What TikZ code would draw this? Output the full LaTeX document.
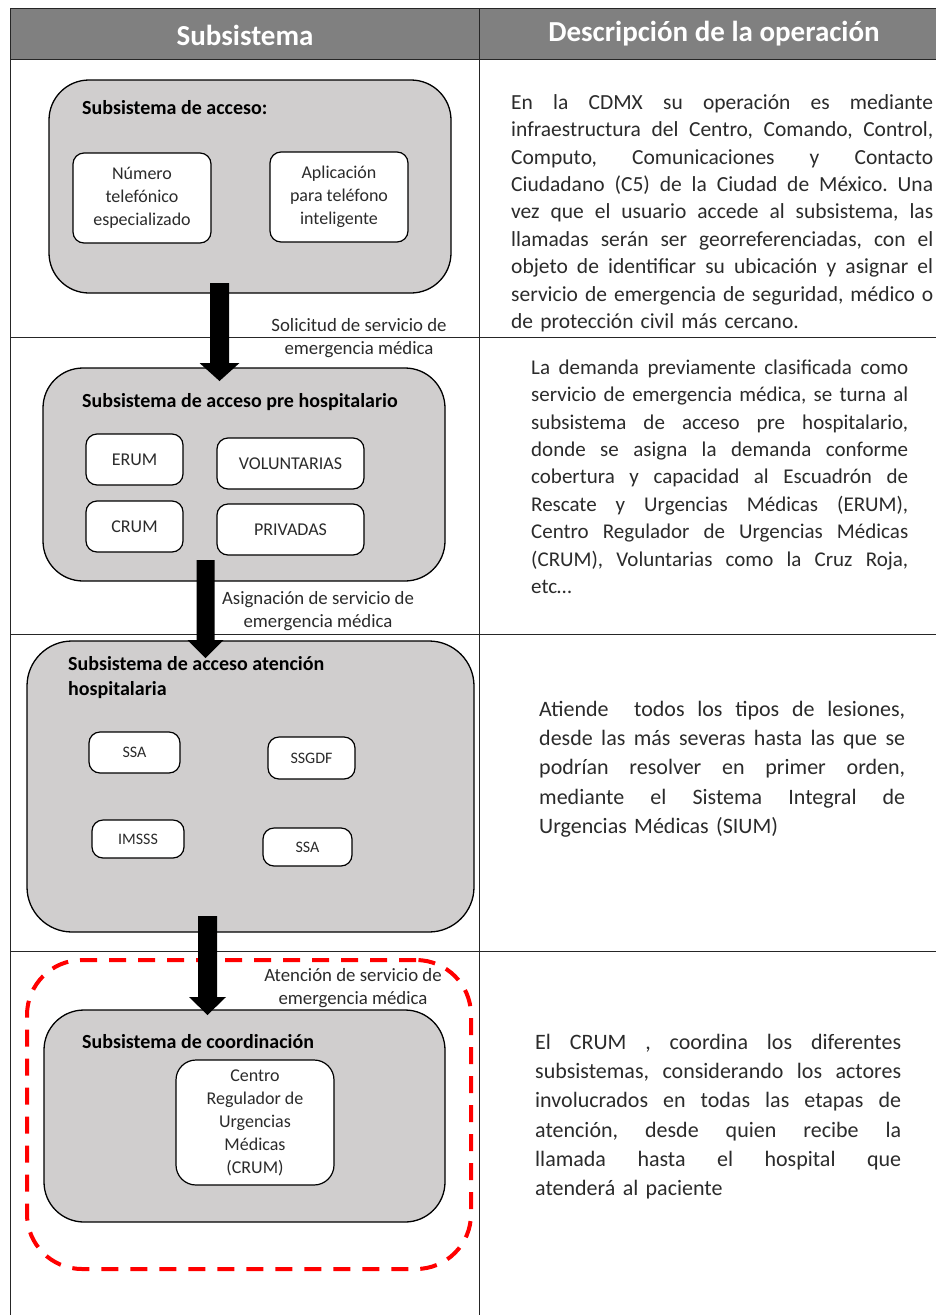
\documentclass[tikz,border=0pt]{standalone}
\usepackage{fontspec}
\setmainfont{Carlito}
\usetikzlibrary{calc}
\definecolor{hdr}{HTML}{808080}
\definecolor{boxg}{HTML}{D0CECE}
\definecolor{txt}{HTML}{2B2B2B}
\newlength\dw
\newcommand\jl[1]{\leavevmode\hbox to \dw{\spaceskip=\fontdimen2\font plus 1fil\relax\strut #1}\\}
\newcommand\lastl[1]{\strut #1}
\newcommand\fatarrow[4]{%
  \fill let \p1=(#1), \p2=(#2) in
    (\x1-#3pt,\y1) -- (\x1+#3pt,\y1) -- (\x1+#3pt,\y2+18pt) -- (\x1+#4pt,\y2+18pt)
    -- (\x1,\y2) -- (\x1-#4pt,\y2+18pt) -- (\x1-#3pt,\y2+18pt) -- cycle;}
\frenchspacing
\begin{document}
\begin{tikzpicture}[x=1pt,y=-1pt,
  bigbox/.style={draw=black, line width=1.3pt, fill=boxg, inner sep=0},
  subbox/.style={draw=black, line width=1.2pt, fill=white, rounded corners=11pt, inner sep=0,
    align=center, font=\fontsize{18}{23}\selectfont, text=txt},
  ttl/.style={anchor=base west, inner sep=0, align=left, font=\bfseries\fontsize{20}{25}\selectfont},
  lbl/.style={inner sep=0, align=center, font=\fontsize{18.8}{23}\selectfont, text=txt},
  desc/.style={anchor=north west, inner sep=0, align=left, text=txt},
  tline/.style={line width=1pt, draw=black!85},
  hdrtxt/.style={inner sep=0, text=white, font=\bfseries\fontsize{29}{31}\selectfont}]
\useasboundingbox (0,0) rectangle (936,1315);
\fill[white] (0,0) rectangle (936,1315);

% ---- table ----
\fill[hdr] (10,8) rectangle (936,59);
\draw[tline] (10,8) -- (936,8);
\draw[tline] (10,59) -- (936,59);
\draw[tline] (10,8) -- (10,1315);
\draw[tline] (479,8) -- (479,1315);
\draw[tline] (10,337) -- (936,337);
\draw[tline] (10,634) -- (936,634);
\draw[tline] (10,951) -- (936,951);
\node[hdrtxt] (h1) at (245,35) {Subsistema};
\node[hdrtxt] (h2) at (714,34) {Descripción de la operación};

% ---- row 1 ----
\node[bigbox, rounded corners=40pt, minimum width=402pt, minimum height=213pt] (b1) at (250,186.5) {};
\node[ttl] (t1) at (82,114) {Subsistema de acceso:};
\node[subbox, minimum width=138pt, minimum height=90pt] (n11) at (142,198) {Número\\telefónico\\especializado};
\node[subbox, minimum width=138pt, minimum height=90pt] (n12) at (339,197) {Aplicación\\para teléfono\\inteligente};
\node[lbl] (l1) at (359,338) {Solicitud de servicio de\\emergencia médica};

% ---- row 2 ----
\node[bigbox, rounded corners=40pt, minimum width=402pt, minimum height=213pt] (b2) at (244,474.5) {};
\node[ttl] (t2) at (82,407) {Subsistema de acceso pre hospitalario};
\node[subbox, minimum width=97pt, minimum height=51pt] (n21) at (134.5,459.5) {ERUM};
\node[subbox, minimum width=147pt, minimum height=51pt] (n22) at (290.5,463.5) {VOLUNTARIAS};
\node[subbox, minimum width=97pt, minimum height=51pt] (n23) at (134.5,526.5) {CRUM};
\node[subbox, minimum width=147pt, minimum height=51pt] (n24) at (290.5,529.5) {PRIVADAS};
\node[lbl] (l2) at (318,611) {Asignación de servicio de\\emergencia médica};

% ---- row 3 ----
\node[bigbox, rounded corners=45pt, minimum width=447pt, minimum height=291pt] (b3) at (250.5,786.5) {};
\node[ttl] (t3) at (68,695) {Subsistema de acceso atención\\hospitalaria};
\node[subbox, font=\fontsize{16}{20}\selectfont, minimum width=91pt, minimum height=41pt] (n31) at (134.5,752.5) {SSA};
\node[subbox, font=\fontsize{16}{20}\selectfont, minimum width=87pt, minimum height=42pt] (n32) at (311.5,758) {SSGDF};
\node[subbox, font=\fontsize{16}{20}\selectfont, minimum width=92pt, minimum height=38pt] (n33) at (138,839) {IMSSS};
\node[subbox, font=\fontsize{16}{20}\selectfont, minimum width=89pt, minimum height=38pt] (n34) at (307.5,847) {SSA};

% ---- row 4 ----
\node[draw=red, line width=4pt, dash pattern=on 17pt off 12pt, rounded corners=55pt,
  minimum width=444pt, minimum height=309pt, inner sep=0] (rd) at (249,1114.5) {};
\node[lbl] (l3) at (353,988.5) {Atención de servicio de\\emergencia médica};
\node[bigbox, rounded corners=40pt, minimum width=401pt, minimum height=212pt] (b4) at (244.5,1116) {};
\node[ttl] (t4) at (82,1048) {Subsistema de coordinación};
\node[subbox, rounded corners=20pt, minimum width=158pt, minimum height=125pt] (n41) at (255,1122.5) {Centro\\Regulador de\\Urgencias\\Médicas\\(CRUM)};

% ---- arrows ----
\coordinate (a1s) at (219.5,283);
\coordinate (a1e) at (219.5,381);
\coordinate (a2s) at (205.5,560);
\coordinate (a2e) at (205.5,658);
\coordinate (a3s) at (207.5,916);
\coordinate (a3e) at (207.5,1015);
\fatarrow{a1s}{a1e}{9.5}{20}
\fatarrow{a2s}{a2e}{9}{18}
\fatarrow{a3s}{a3e}{9.5}{18.5}

% ---- descriptions ----
\node[desc, text width=422pt, font=\fontsize{21.5}{27.4}\selectfont] (d1) at (511,90) {%
\setlength\dw{422pt}%
\jl{En la CDMX su operación es mediante}
\jl{infraestructura del Centro, Comando, Control,}
\jl{Computo, Comunicaciones y Contacto}
\jl{Ciudadano (C5) de la Ciudad de México. Una}
\jl{vez que el usuario accede al subsistema, las}
\jl{llamadas serán ser georreferenciadas, con el}
\jl{objeto de identificar su ubicación y asignar el}
\jl{servicio de emergencia de seguridad, médico o}
\lastl{de protección civil más cercano.}};

\node[desc, text width=377pt, font=\fontsize{21}{27.4}\selectfont] (d2) at (531,355) {%
\setlength\dw{377pt}%
\jl{La demanda previamente clasificada como}
\jl{servicio de emergencia médica, se turna al}
\jl{subsistema de acceso pre hospitalario,}
\jl{donde se asigna la demanda conforme}
\jl{cobertura y capacidad al Escuadrón de}
\jl{Rescate y Urgencias Médicas (ERUM),}
\jl{Centro Regulador de Urgencias Médicas}
\jl{(CRUM), Voluntarias como la Cruz Roja,}
\lastl{etc…}};

\node[desc, text width=366pt, font=\fontsize{22}{29.3}\selectfont] (d3) at (539,695.5) {%
\setlength\dw{366pt}%
\jl{Atiende\ \ todos los tipos de lesiones,}
\jl{desde las más severas hasta las que se}
\jl{podrían resolver en primer orden,}
\jl{mediante el Sistema Integral de}
\lastl{Urgencias Médicas (SIUM)}};

\node[desc, text width=366pt, font=\fontsize{22}{29.3}\selectfont] (d4) at (535,1028.4) {%
\setlength\dw{366pt}%
\jl{El CRUM , coordina los diferentes}
\jl{subsistemas, considerando los actores}
\jl{involucrados en todas las etapas de}
\jl{atención, desde quien recibe la}
\jl{llamada hasta el hospital que}
\lastl{atenderá al paciente}};
\end{tikzpicture}
\end{document}
